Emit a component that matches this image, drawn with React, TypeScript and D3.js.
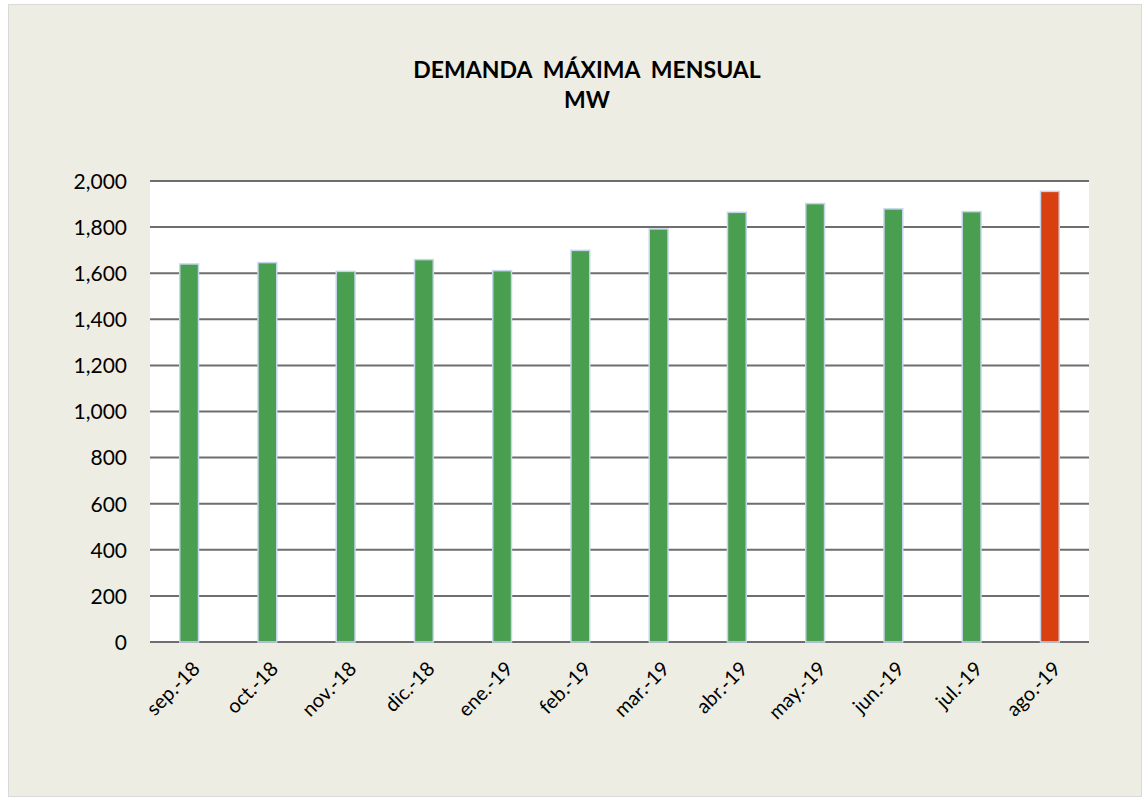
import React, { useEffect, useRef } from "react";
import * as d3 from "d3";

const months = [
  "sep.-18", "oct.-18", "nov.-18", "dic.-18", "ene.-19", "feb.-19",
  "mar.-19", "abr.-19", "may.-19", "jun.-19", "jul.-19", "ago.-19",
];
const demand = [1640, 1646, 1608, 1659, 1611, 1699, 1792, 1864, 1902, 1879, 1867, 1955];
const yTicks = [0, 200, 400, 600, 800, 1000, 1200, 1400, 1600, 1800, 2000];
const titleLines = ["DEMANDA  MÁXIMA  MENSUAL", "MW"];

const App = () => {
  const svgRef = useRef<SVGSVGElement>(null);

  useEffect(() => {
    const width = 1144, height = 798;
    const plot = { left: 150, right: 1089, top: 181, bottom: 642 };
    const font = "Lato, 'Open Sans', sans-serif";

    const svg = d3.select(svgRef.current)
      .attr("width", width)
      .attr("height", height);
    svg.selectAll("*").remove();

    // fondo y borde del gráfico
    svg.append("rect")
      .attr("x", 8.5).attr("y", 4.5)
      .attr("width", 1133).attr("height", 792)
      .attr("fill", "#EEEDE3")
      .attr("stroke", "#D9D9D9");

    svg.append("rect")
      .attr("x", plot.left).attr("y", plot.top)
      .attr("width", plot.right - plot.left)
      .attr("height", plot.bottom - plot.top)
      .attr("fill", "#ffffff");

    // título (con dobles espacios)
    svg.append("g").selectAll("text")
      .data(titleLines)
      .enter().append("text")
      .attr("x", 587)
      .attr("y", (d, i) => 78 + i * 30)
      .attr("text-anchor", "middle")
      .attr("font-family", font)
      .attr("font-weight", "bold")
      .attr("font-size", 23)
      .attr("fill", "#000")
      .style("white-space", "pre")
      .text(d => d);

    const xScale = d3.scaleBand()
      .domain(months)
      .range([plot.left, plot.right])
      .paddingInner(0.76)
      .paddingOuter(0.38);

    const yScale = d3.scaleLinear()
      .domain([0, 2000])
      .range([plot.bottom, plot.top]);

    // líneas de división
    svg.append("g").selectAll("line")
      .data(yTicks)
      .enter().append("line")
      .attr("x1", plot.left).attr("x2", plot.right)
      .attr("y1", d => yScale(d)).attr("y2", d => yScale(d))
      .attr("stroke", "#6E6E6E")
      .attr("stroke-width", 2);

    // barras
    svg.append("g").selectAll("rect")
      .data(demand)
      .enter().append("rect")
      .attr("x", (d, i) => xScale(months[i]))
      .attr("y", d => yScale(d))
      .attr("width", xScale.bandwidth())
      .attr("height", d => yScale(0) - yScale(d))
      .attr("fill", (d, i) => (i === months.length - 1 ? "#D9400F" : "#4A9E50"))
      .attr("stroke", "#C5D6EA")
      .attr("stroke-width", 1.5);

    // eje y
    const yAxis = svg.append("g")
      .attr("transform", `translate(${plot.left - 23},0)`)
      .call(d3.axisLeft(yScale).tickValues(yTicks).tickFormat(d3.format(",")).tickSize(0).tickPadding(0));
    yAxis.select(".domain").remove();
    yAxis.selectAll("text")
      .attr("font-family", font)
      .attr("font-size", 21)
      .attr("fill", "#000")
      .attr("dy", "0.35em");

    // eje x
    const xAxis = svg.append("g")
      .attr("transform", `translate(0,${plot.bottom})`)
      .call(d3.axisBottom(xScale).tickSize(0));
    xAxis.select(".domain").remove();
    xAxis.selectAll("text")
      .attr("font-family", font)
      .attr("font-size", 20)
      .attr("fill", "#000")
      .attr("text-anchor", "end")
      .attr("dy", 0)
      .attr("transform", "translate(10,26) rotate(-45)");
  }, []);

  return <svg ref={svgRef} style={{ position: "absolute", left: 0, top: 0 }}></svg>;
};

export default App;
